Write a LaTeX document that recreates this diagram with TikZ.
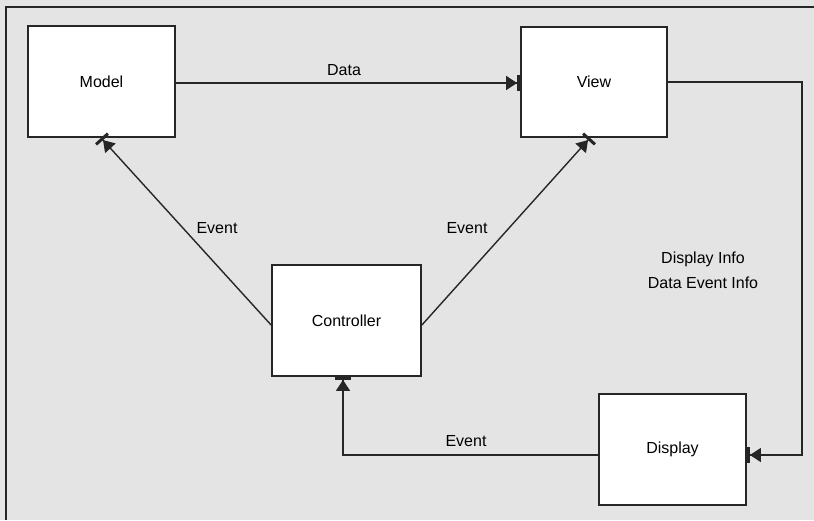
\documentclass[tikz,border=0pt]{standalone}
\usepackage{fontspec}
\setmainfont{Liberation Sans}
\usetikzlibrary{arrows.meta}
\definecolor{bggray}{HTML}{E4E4E4}
\begin{document}
\begin{tikzpicture}[x=1pt,y=-1pt,
  box/.style={draw=black!85,line width=1.8pt,fill=white,rectangle,inner sep=0pt,font=\fontsize{16}{19}\selectfont},
  conn/.style={draw=black!85,line width=1.4pt},
  tip/.style={-{Triangle[length=11pt,width=14pt,sep=0pt]Bar[width=16pt,line width=3pt]}},
  lbl/.style={font=\fontsize{16}{19}\selectfont,inner sep=0pt}]
\useasboundingbox (0,0) rectangle (814,520);
\fill[bggray] (0,0) rectangle (814,520);
\draw[black!85,line width=2pt] (6,520) -- (6,7) -- (814,7);
% boxes
\node[box,minimum width=147pt,minimum height=111pt] (model) at (101.5,81.5) {Model};
\node[box,minimum width=146pt,minimum height=110pt] (view) at (594,82) {View};
\node[box,minimum width=149pt,minimum height=111pt] (ctrl) at (346.5,320.5) {Controller};
\node[box,minimum width=147pt,minimum height=111pt] (disp) at (672.5,449.5) {Display};
% connectors
\coordinate (c1) at (802,82);
\coordinate (c2) at (802,455);
\coordinate (c3) at (343,455);
\draw[conn,tip] (model.east |- 0,83) -- (view.west |- 0,83);
\draw[conn,tip] (ctrl.west |- 0,325) -- (model.south -| 101,0);
\draw[conn,tip] (ctrl.east |- 0,325) -- (view.south -| 590,0);
\draw[conn,tip] (view.east) -- (c1) -- (c2) -- (disp.east |- c2);
\draw[conn,tip] (disp.west |- c2) -- (c3) -- (ctrl.south -| c3);
\node[lbl] (data) at (344,70) {Data};
\node[lbl] (eva) at (217,228) {Event};
\node[lbl] (evc) at (467,228) {Event};
\node[lbl] (evb) at (466,441) {Event};
\node[lbl,align=center] (info) at (703,270) {Display Info\\[6pt]Data Event Info};
\end{tikzpicture}
\end{document}
